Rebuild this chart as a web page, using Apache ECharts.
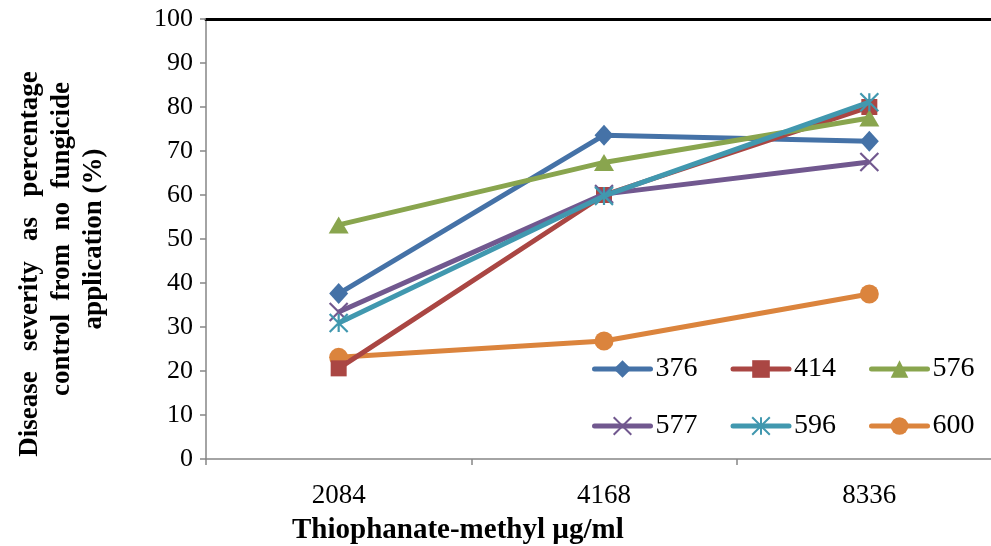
<!DOCTYPE html>
<html><head><meta charset="utf-8">
<script src="https://cdn.jsdelivr.net/npm/echarts@6/dist/echarts.min.js"></script>
<style>html,body{margin:0;padding:0;background:#fff}#c{width:991px;height:546px}</style>
</head><body><div id="c"></div>
<script>
const categories = ['2084', '4168', '8336'];
const seriesNames = ['376', '414', '576', '577', '596', '600'];
const s376 = [37.6, 73.6, 72.2];
const s414 = [20.6, 60.0, 80.0];
const s576 = [53.2, 67.4, 77.5];
const s577 = [33.4, 60.2, 67.5];
const s596 = [30.9, 59.8, 81.1];
const s600 = [23.1, 26.8, 37.5];
const yTicks = [0, 10, 20, 30, 40, 50, 60, 70, 80, 90, 100];

const values = [s376, s414, s576, s577, s596, s600];
const colors = ['#4572A7', '#AA4643', '#89A54E', '#71588F', '#4198AF', '#DB843D'];
const symbols = [
  'diamond', 'rect', 'triangle',
  'path://M0,0 L10,10 M10,0 L0,10',
  'path://M0,0 L10,10 M10,0 L0,10 M5,0 L5,10',
  'circle'
];
const symSizes = [[19, 21], 16, [20, 17], 18, 18, 19];
const serif = '"Liberation Serif", "Times New Roman", serif';

const chart = echarts.init(document.getElementById('c'), null, {renderer: 'canvas'});
const series = seriesNames.map((n, i) => {
  const stroke = (i === 3 || i === 4);
  return {
    name: n, type: 'line', data: values[i], xAxisIndex: 0, yAxisIndex: 0,
    symbol: symbols[i], symbolSize: symSizes[i], showAllSymbol: true,
    lineStyle: {color: colors[i], width: 5},
    itemStyle: stroke ? {color: colors[i], borderColor: colors[i], borderWidth: 2.2} : {color: colors[i]},
    emphasis: {disabled: true},
    animation: false, z: 3 + (i === 5 ? 0 : i)
  };
});
const legendCommon = {
  orient: 'horizontal', itemWidth: 56, itemHeight: 22, itemGap: 33,
  textStyle: {fontFamily: serif, fontSize: 28, color: '#000'},
  lineStyle: {width: 5, cap: 'round'}
};
const tStyle = {fontFamily: serif, fontSize: 27, fontWeight: 'bold', color: '#000', lineHeight: 32};
chart.setOption({
  backgroundColor: '#fff',
  animation: false,
  title: {
    text: 'Thiophanate-methyl µg/ml', left: 287, top: 511,
    textStyle: {fontFamily: serif, fontSize: 29, fontWeight: 'bold', color: '#000'}
  },
  legend: [
    Object.assign({}, legendCommon, {data: seriesNames.slice(0, 3), left: 587, top: 350}),
    Object.assign({}, legendCommon, {data: seriesNames.slice(3), left: 587, top: 407})
  ],
  grid: {left: 206, width: 796, top: 19, bottom: 87, containLabel: false, outerBoundsMode: 'none'},
  xAxis: [{
    type: 'category', data: categories, boundaryGap: true, position: 'bottom',
    axisLine: {lineStyle: {color: '#868686', width: 1.5}},
    axisTick: {show: true, length: 6, lineStyle: {color: '#868686', width: 1.5}},
    axisLabel: {fontFamily: serif, fontSize: 27, color: '#000', margin: 23},
    splitLine: {show: false}
  }, {
    type: 'category', data: categories, position: 'top',
    axisLine: {lineStyle: {color: '#000', width: 3}},
    axisTick: {show: false}, axisLabel: {show: false}, splitLine: {show: false}
  }],
  yAxis: {
    type: 'value', min: yTicks[0], max: yTicks[yTicks.length - 1], interval: 10,
    axisLine: {show: true, lineStyle: {color: '#868686', width: 1.5}},
    axisTick: {show: true, length: 6, lineStyle: {color: '#868686', width: 1.5}},
    axisLabel: {fontFamily: serif, fontSize: 26, color: '#000', margin: 13},
    splitLine: {show: false},
    name: '{t|Disease   severity   as   percentage}{p1|}\n{t|control  from  no  fungicide}\n{t|application (%)}',
    nameLocation: 'middle', nameRotate: 90, nameGap: 96,
    nameTextStyle: Object.assign({}, tStyle, {
      align: 'center',
      rich: {t: tStyle, p1: {width: 50, height: 1}}
    })
  },
  series: series
});
</script></body></html>
